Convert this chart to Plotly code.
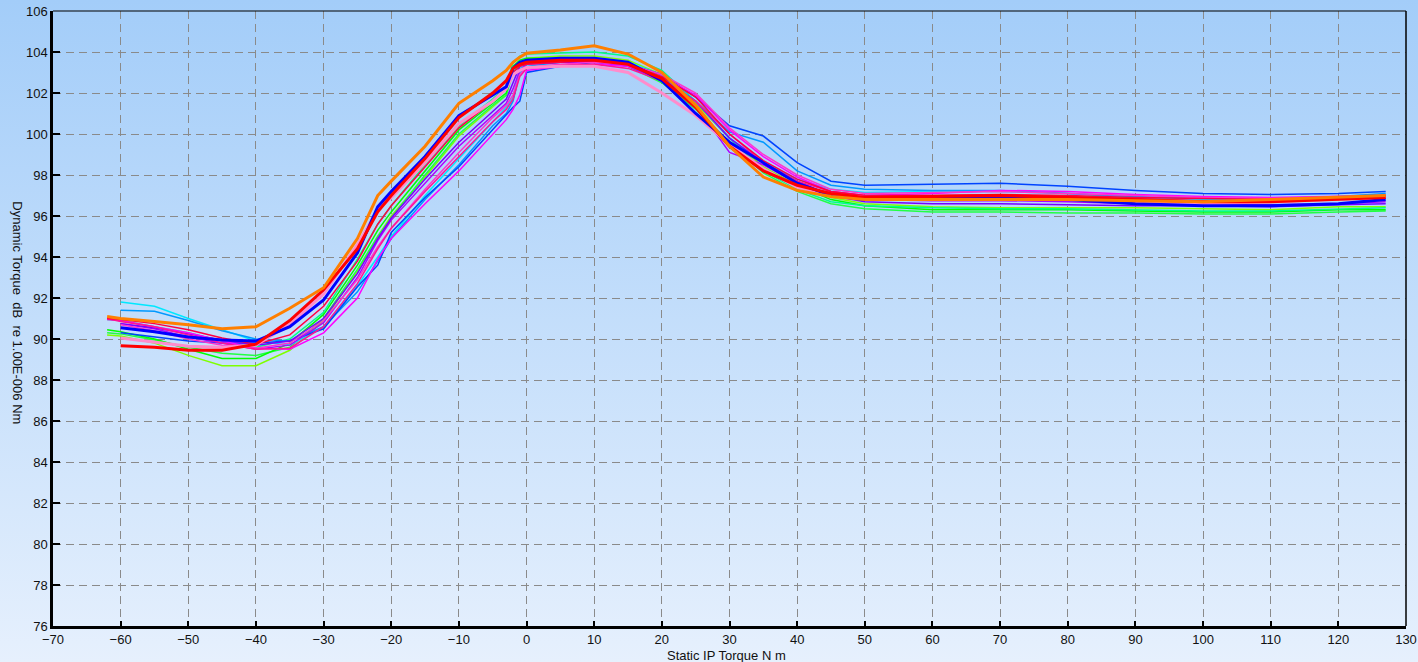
import base64
import plotly.graph_objects as go

X = [-62, -60, -55, -50, -45, -40, -35, -30, -25, -22, -20, -15, -10, -5, -3, -2, -1, 0,
     5, 10, 15, 20, 25, 30, 35, 40, 45, 50, 60, 70, 80, 90, 100, 110, 120, 127]

ORANGE = [91.1, 91.0, 90.85, 90.7, 90.5, 90.6, 91.5, 92.5, 94.9, 97.0, 97.7, 99.4, 101.5, 102.6, 103.1, 103.5, 103.75, 103.94,
          104.1, 104.3, 103.9, 103.0, 101.4, 99.4, 97.9, 97.25, 96.95, 96.8, 96.8, 96.8, 96.8, 96.75, 96.7, 96.8, 96.9, 97.0]
RED = [None, 89.67, 89.6, 89.45, 89.45, 89.75, 90.9, 92.4, 94.4, 96.2, 97.0, 98.8, 100.8, 102.0, 102.6, 103.2, 103.4, 103.5,
       103.6, 103.6, 103.4, 102.7, 101.3, 99.4, 98.2, 97.5, 97.1, 96.9, 96.95, 97.0, 96.9, 96.8, 96.7, 96.7, 96.8, 96.9]
BLUE = [None, 90.55, 90.35, 90.1, 89.95, 89.9, 90.6, 91.9, 94.2, 96.45, 97.2, 98.9, 100.9, 101.9, 102.3, 103.2, 103.5, 103.6,
        103.7, 103.7, 103.5, 102.6, 101.0, 99.6, 98.6, 97.6, 97.0, 96.8, 96.85, 96.9, 96.8, 96.6, 96.5, 96.5, 96.6, 96.8]
PINK = [None, 90.05, 89.85, 89.65, 89.6, 89.7, 90.7, 92.2, 94.6, 96.3, 96.9, 98.6, 100.5, 101.6, 102.2, 102.9, 103.1, 103.25,
        103.3, 103.3, 103.0, 102.0, 100.9, 99.5, 98.3, 97.4, 97.0, 96.9, 96.9, 96.9, 96.8, 96.7, 96.6, 96.7, 96.8, 96.9]
CYAN = [None, 91.8, 91.6, 91.0, 90.45, 89.9, 89.7, 90.6, 92.6, 94.0, 95.0, 97.0, 98.8, 100.6, 101.3, 101.8, 103.2, 103.4,
        103.6, 103.7, 103.5, 102.9, 101.6, 99.8, 98.6, 97.8, 97.3, 97.15, 97.2, 97.2, 97.1, 96.9, 96.8, 96.8, 96.9, 97.0]
SKYBLUE = [None, 91.4, 91.35, 90.9, 90.4, 90.0, 89.9, 90.6, 92.3, 93.8, 94.9, 96.8, 98.5, 100.4, 101.0, 101.6, 103.0, 103.3,
           103.5, 103.6, 103.4, 102.8, 101.6, 100.1, 99.6, 98.2, 97.5, 97.3, 97.25, 97.25, 97.1, 96.95, 96.85, 96.85, 96.95, 97.1]
ROYAL = [None, 90.3, 90.1, 89.9, 89.8, 89.8, 89.9, 90.5, 92.55, 93.6, 95.2, 96.9, 98.4, 100.2, 100.9, 101.3, 101.6, 103.0,
         103.3, 103.5, 103.4, 102.9, 101.8, 100.4, 99.9, 98.6, 97.7, 97.5, 97.55, 97.6, 97.45, 97.25, 97.1, 97.05, 97.1, 97.2]
GREEN = [90.45, 90.35, 90.0, 89.5, 89.05, 89.05, 89.8, 91.2, 93.6, 95.3, 96.2, 98.2, 100.2, 101.5, 102.0, 103.3, 103.6, 103.7,
         103.7, 103.7, 103.4, 102.6, 101.3, 99.5, 98.3, 97.5, 96.8, 96.5, 96.3, 96.3, 96.3, 96.25, 96.2, 96.2, 96.3, 96.3]
LIME = [90.2, 90.15, 89.8, 89.2, 88.7, 88.7, 89.45, 90.9, 93.3, 95.0, 96.0, 97.9, 99.9, 101.3, 101.9, 103.2, 103.5, 103.7,
        103.8, 103.8, 103.6, 102.9, 101.5, 99.8, 98.4, 97.5, 96.9, 96.6, 96.45, 96.4, 96.4, 96.4, 96.35, 96.3, 96.45, 96.45]
SPRING = [90.95, 90.9, 90.6, 90.3, 89.9, 89.6, 90.0, 91.3, 93.9, 95.6, 96.5, 98.5, 100.4, 101.7, 102.3, 103.5, 103.8, 103.9,
          103.95, 104.0, 103.8, 103.1, 101.6, 99.8, 98.2, 97.3, 96.7, 96.5, 96.4, 96.35, 96.35, 96.3, 96.25, 96.25, 96.35, 96.4]
GREEN2 = [90.3, 90.25, 89.95, 89.6, 89.3, 89.2, 89.6, 91.0, 93.4, 95.0, 95.9, 98.0, 100.0, 101.4, 101.9, 103.0, 103.4, 103.55,
          103.6, 103.6, 103.3, 102.5, 101.2, 99.6, 98.1, 97.2, 96.6, 96.35, 96.2, 96.2, 96.15, 96.15, 96.1, 96.1, 96.2, 96.25]
MAGENTA = [90.95, 90.9, 90.6, 90.3, 89.9, 89.55, 89.5, 90.3, 92.0, 93.9, 94.9, 96.6, 98.2, 100.0, 100.7, 101.2, 101.9, 103.1,
           103.3, 103.4, 103.3, 102.8, 101.9, 100.2, 98.9, 97.9, 97.2, 97.0, 97.1, 97.25, 97.2, 97.05, 96.95, 96.9, 96.95, 97.0]
DEEPPINK = [91.0, 90.85, 90.6, 90.2, 89.8, 89.5, 89.55, 90.6, 92.7, 94.4, 95.4, 97.2, 98.9, 100.6, 101.2, 101.7, 102.8, 103.2,
            103.35, 103.4, 103.2, 102.6, 101.6, 100.0, 98.6, 97.7, 97.2, 97.0, 97.0, 97.0, 96.95, 96.85, 96.75, 96.7, 96.8, 96.9]
VIOLET = [None, 90.75, 90.5, 90.1, 89.8, 89.5, 89.7, 90.8, 93.0, 94.8, 95.8, 97.6, 99.4, 100.9, 101.5, 102.2, 103.1, 103.4,
          103.5, 103.5, 103.3, 102.6, 101.4, 99.1, 98.5, 97.6, 97.0, 96.8, 96.75, 96.75, 96.7, 96.6, 96.55, 96.55, 96.6, 96.7]
CRIMSON = [91.0, 90.95, 90.75, 90.45, 90.05, 89.75, 90.2, 91.6, 93.8, 95.6, 96.5, 98.4, 100.3, 101.6, 102.2, 103.0, 103.3, 103.4,
           103.5, 103.6, 103.4, 102.8, 101.8, 100.0, 98.7, 97.8, 97.2, 97.0, 97.0, 97.05, 97.0, 96.9, 96.85, 96.8, 96.9, 97.0]
HOTPINK = [None, 90.7, 90.4, 90.0, 89.7, 89.55, 89.8, 90.9, 92.9, 94.5, 95.4, 97.3, 99.1, 100.8, 101.4, 101.9, 102.9, 103.25,
           103.4, 103.5, 103.4, 102.9, 102.0, 100.3, 99.0, 98.0, 97.3, 97.1, 97.15, 97.2, 97.1, 97.0, 96.9, 96.85, 96.9, 97.0]
PURPLE = [None, 90.75, 90.55, 90.25, 89.95, 89.7, 89.9, 91.0, 93.2, 94.9, 95.9, 97.8, 99.6, 101.1, 101.7, 102.5, 103.3, 103.45,
          103.5, 103.55, 103.4, 102.7, 101.6, 99.8, 98.6, 97.7, 97.0, 96.7, 96.6, 96.6, 96.55, 96.5, 96.5, 96.45, 96.55, 96.6]

# (values, colour, width) in drawing order
SERIES = [
    (LIME, "#7fff00", 1.5), (GREEN2, "#22ff44", 1.5), (GREEN, "#00ff00", 1.5), (SPRING, "#00ff88", 1.5),
    (CYAN, "#00e8ff", 1.5), (SKYBLUE, "#0099ff", 1.5), (ROYAL, "#0044ff", 1.5),
    (VIOLET, "#b000ff", 1.5), (PURPLE, "#7a00ff", 1.5), (MAGENTA, "#ff00ff", 1.5),
    (HOTPINK, "#ff33cc", 1.5), (DEEPPINK, "#ff1493", 1.5), (CRIMSON, "#ff0044", 1.5),
    (PINK, "#ff8ccc", 3), (BLUE, "#0000ff", 3), (RED, "#ff0000", 3), (ORANGE, "#ff7f00", 3),
]

fig = go.Figure()
for ys, col, w in SERIES:
    fig.add_trace(go.Scatter(x=X, y=ys, mode="lines", line=dict(color=col, width=w),
                             connectgaps=False, showlegend=False, hoverinfo="skip"))

svg = ('<svg xmlns="http://www.w3.org/2000/svg" width="100" height="100" preserveAspectRatio="none">'
       '<defs><linearGradient id="g" x1="0" y1="0" x2="0" y2="1">'
       '<stop offset="0" stop-color="#a3cdf9"/><stop offset="1" stop-color="#e6f0fd"/>'
       '</linearGradient></defs><rect width="100" height="100" fill="url(#g)"/></svg>')
src = "data:image/svg+xml;base64," + base64.b64encode(svg.encode()).decode()

L, R, T, B = 53, 12, 11, 36
W, H = 1418, 662
pw, ph = W - L - R, H - T - B

fig.add_layout_image(dict(source=src, xref="paper", yref="paper",
                          x=-L / pw, y=1 + T / ph, sizex=W / pw, sizey=H / ph,
                          xanchor="left", yanchor="top", sizing="stretch", layer="below"))

FONT = "Liberation Sans, Arial, sans-serif"
tickfont = dict(family=FONT, size=13, color="#111111")
fig.update_layout(
    width=W, height=H, margin=dict(l=L, r=R, t=T, b=B, autoexpand=False),
    paper_bgcolor="rgba(0,0,0,0)", plot_bgcolor="rgba(0,0,0,0)",
    xaxis=dict(range=[-70, 130], dtick=10, tick0=-70, showgrid=True, gridcolor="#8a8a8a",
               griddash="8px,5px", gridwidth=1, zeroline=False, showline=True, linecolor="black",
               linewidth=2.5, ticks="inside", ticklen=5, tickcolor="black", tickwidth=1.5,
               tickfont=tickfont, automargin=False),
    yaxis=dict(range=[76, 106], dtick=2, tick0=76, showgrid=True, gridcolor="#8a8a8a",
               griddash="8px,5px", gridwidth=1, zeroline=False, showline=True, linecolor="black",
               linewidth=2.5, ticks="inside", ticklen=7, tickcolor="black", tickwidth=1.5,
               tickfont=tickfont, automargin=False),
)
fig.add_shape(type="line", xref="paper", yref="paper", x0=0, x1=1, y0=1, y1=1,
              line=dict(color="black", width=1.2))
fig.add_shape(type="line", xref="paper", yref="paper", x0=1, x1=1, y0=0, y1=1,
              line=dict(color="black", width=1.5))
fig.add_annotation(text="Dynamic Torque  dB  re 1.00E-006 Nm", textangle=90, showarrow=False,
                   xref="paper", yref="paper", x=-35 / pw, y=0.51, xanchor="center", yanchor="middle",
                   font=dict(family=FONT, size=13, color="#111111"))
fig.add_annotation(text="Static IP Torque N m", showarrow=False,
                   xref="paper", yref="paper", x=0.498, y=-29 / ph, xanchor="center", yanchor="middle",
                   font=dict(family=FONT, size=13, color="#111111"))

fig.write_html("out.html")
